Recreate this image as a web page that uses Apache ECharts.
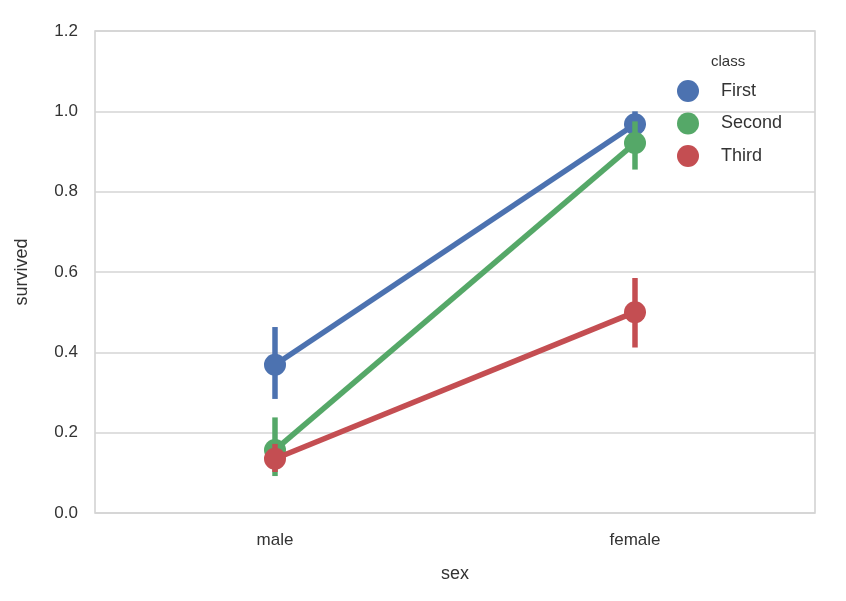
<!DOCTYPE html>
<html><head><meta charset="utf-8">
<script src="https://cdn.jsdelivr.net/npm/echarts@6/dist/echarts.min.js"></script>
<style>html,body{margin:0;padding:0;background:#fff}#c{width:846px;height:601px}</style>
</head><body><div id="c"></div>
<script>
var categories = ['male', 'female'];
var classes = ['First', 'Second', 'Third'];
var colors = ['#4C72B0', '#55A868', '#C44E52'];
var firstMean = [0.369, 0.968];
var secondMean = [0.157, 0.921];
var thirdMean = [0.135, 0.500];
var firstLow = [0.284, 0.930];
var firstHigh = [0.463, 1.000];
var secondLow = [0.092, 0.855];
var secondHigh = [0.238, 0.975];
var thirdLow = [0.102, 0.412];
var thirdHigh = [0.172, 0.585];
var yTicks = [0, 0.2, 0.4, 0.6, 0.8, 1.0, 1.2];

var means = [firstMean, secondMean, thirdMean];
var lows = [firstLow, secondLow, thirdLow];
var highs = [firstHigh, secondHigh, thirdHigh];
var font = '"Liberation Sans", Arial, sans-serif';

var series = [];
classes.forEach(function (name, k) {
  series.push({
    type: 'line', name: name, data: means[k],
    symbol: 'circle', symbolSize: 22,
    lineStyle: { width: 5.5, color: colors[k] },
    itemStyle: { color: colors[k] },
    z: 2 + k * 2, animation: false
  });
  series.push({
    type: 'custom', name: name + '_err',
    data: categories.map(function (c, i) { return [i, lows[k][i], highs[k][i]]; }),
    encode: { x: 0, y: [1, 2] },
    renderItem: function (params, api) {
      var a = api.coord([api.value(0), api.value(1)]);
      var b = api.coord([api.value(0), api.value(2)]);
      return { type: 'line', shape: { x1: a[0], y1: a[1], x2: b[0], y2: b[1] },
        style: { stroke: colors[k], lineWidth: 5.5 } };
    },
    z: 1 + k * 2, animation: false
  });
});

var chart = echarts.init(document.getElementById('c'));
chart.setOption({
  backgroundColor: '#fff',
  animation: false,
  title: { text: 'class', left: 706, top: 49, textStyle: { fontFamily: font, fontSize: 15, fontWeight: 'normal', color: '#333' } },
  legend: {
    data: classes, orient: 'vertical', left: 672, top: 75,
    icon: 'circle', itemWidth: 22, itemHeight: 22, itemGap: 10.5,
    textStyle: { fontFamily: font, fontSize: 18, color: '#333', padding: [0, 0, 0, 17] }
  },
  grid: { left: 95, right: 31, top: 31, bottom: 88, show: true, borderColor: '#cfcfcf', borderWidth: 1.5 },
  xAxis: {
    type: 'category', data: categories, boundaryGap: true,
    name: 'sex', nameLocation: 'middle', nameGap: 52,
    nameTextStyle: { fontFamily: font, fontSize: 18, color: '#333' },
    axisLine: { show: false }, axisTick: { show: false },
    axisLabel: { fontFamily: font, fontSize: 17, color: '#333', margin: 19 },
    splitLine: { show: false }
  },
  yAxis: {
    type: 'value', min: yTicks[0], max: yTicks[yTicks.length - 1], interval: 0.2,
    name: 'survived', nameLocation: 'middle', nameGap: 64,
    nameTextStyle: { fontFamily: font, fontSize: 18, color: '#333' },
    axisLine: { show: false }, axisTick: { show: false },
    axisLabel: { fontFamily: font, fontSize: 17, color: '#333', margin: 17, formatter: function (v) { return v.toFixed(1); } },
    splitLine: { lineStyle: { color: '#d4d4d4', width: 1.5 } }
  },
  series: series
});
</script></body></html>
